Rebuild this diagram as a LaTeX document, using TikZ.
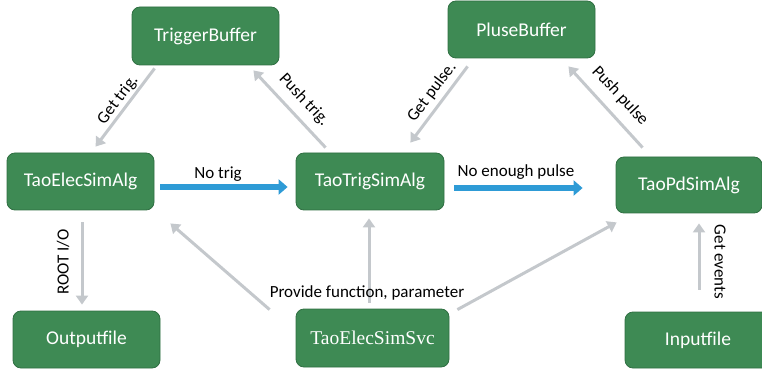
\documentclass[tikz,border=0pt]{standalone}
\usepackage{fontspec}
\setmainfont{Carlito}
\newfontfamily\serifface{Liberation Serif}
\usetikzlibrary{arrows.meta,calc}
\definecolor{boxgreen}{HTML}{3E8A54}
\definecolor{boxedge}{HTML}{2F6F42}
\definecolor{arrgray}{HTML}{C4C8CC}
\definecolor{arrblue}{HTML}{2E9BD6}
\begin{document}
\begin{tikzpicture}[x=1pt,y=-1pt,
  box/.style={draw=boxedge,line width=0.8pt,fill=boxgreen,rounded corners=8pt,text=white,
    font=\fontsize{19.5}{21}\selectfont,inner sep=0pt,minimum height=57pt},
  grayarr/.style={draw=arrgray,line width=3pt,-{Triangle[length=9pt,width=12pt]}},
  bluearr/.style={draw=arrblue,line width=6pt,-{Triangle[length=9pt,width=15pt]}},
  lbl/.style={font=\fontsize{17}{18}\selectfont,text=black,inner sep=0pt}]
\useasboundingbox (0,0) rectangle (762,371);
% nodes
\node[box,minimum width=147pt,minimum height=58pt] (tb) at (205.5,36) {TriggerBuffer};
\node[box,minimum width=147pt] (pb) at (521.5,29.5) {PluseBuffer};
\node[box,minimum width=147pt] (ea) at (80.5,181.5) {TaoElecSimAlg};
\node[box,minimum width=148pt] (ta) at (370,181.5) {TaoTrigSimAlg};
\node[box,minimum width=146pt,minimum height=56pt] (pa) at (689,185) {TaoPdSimAlg};
\node[box,minimum width=147pt] (of) at (86.5,339.5) {Outputfile};
\node[box,minimum width=153pt,minimum height=58pt,font=\serifface\fontsize{19.5}{21}\selectfont] (sv) at (372.5,338) {TaoElecSimSvc};
\node[box,minimum width=146pt,minimum height=56pt] (inf) at (698,340) {Inputfile};
% connectors
\draw[grayarr] ([shift={(23,3)}]tb.south west) -- ([shift={(89,-6)}]ea.north west);
\draw[grayarr] ([shift={(30,-5)}]ta.north west) -- ([shift={(-26,5)}]tb.south east);
\draw[bluearr] ([shift={(6,5.5)}]ea.east) -- ([shift={(-8,5.5)}]ta.west);
\draw[grayarr] ([shift={(20,8)}]pb.south west) -- ([shift={(-34,-10)}]ta.north east);
\draw[grayarr] ([shift={(27,-9)}]pa.north west) -- ([shift={(-27,8)}]pb.south east);
\draw[bluearr] ([shift={(10,6.5)}]ta.east) -- ([shift={(-33,3)}]pa.west);
\draw[grayarr] ([shift={(1.5,12)}]ea.south) -- ([shift={(-4.5,-6)}]of.north);
\draw[grayarr] ([shift={(-26,1)}]sv.north west) -- ([shift={(16,13)}]ea.south east);
\draw[grayarr] ([shift={(-3.5,-6)}]sv.north) -- ([shift={(-1,8)}]ta.south);
\draw[grayarr] ([shift={(8,1)}]sv.north east) -- ([shift={(1,9)}]pa.south west);
\draw[grayarr] ([shift={(1,-22)}]inf.north) -- ([shift={(10,10)}]pa.south);
% labels
\node[lbl,rotate=53] (l1) at (118,100) {Get trig.};
\node[lbl,rotate=-47] (l2) at (304,100) {Push trig.};
\node[lbl] (l3) at (218,174) {No trig};
\node[lbl,rotate=53] (l4) at (432,92) {Get pulse.};
\node[lbl,rotate=-47] (l5) at (620,96) {Push pulse};
\node[lbl] (l6) at (516,172) {No enough pulse};
\node[lbl,rotate=90] (l7) at (63,262) {ROOT I/O};
\node[lbl] (l8) at (367,293) {Provide function, parameter};
\node[lbl,rotate=-90] (l9) at (720,262) {Get events};
\end{tikzpicture}
\end{document}
